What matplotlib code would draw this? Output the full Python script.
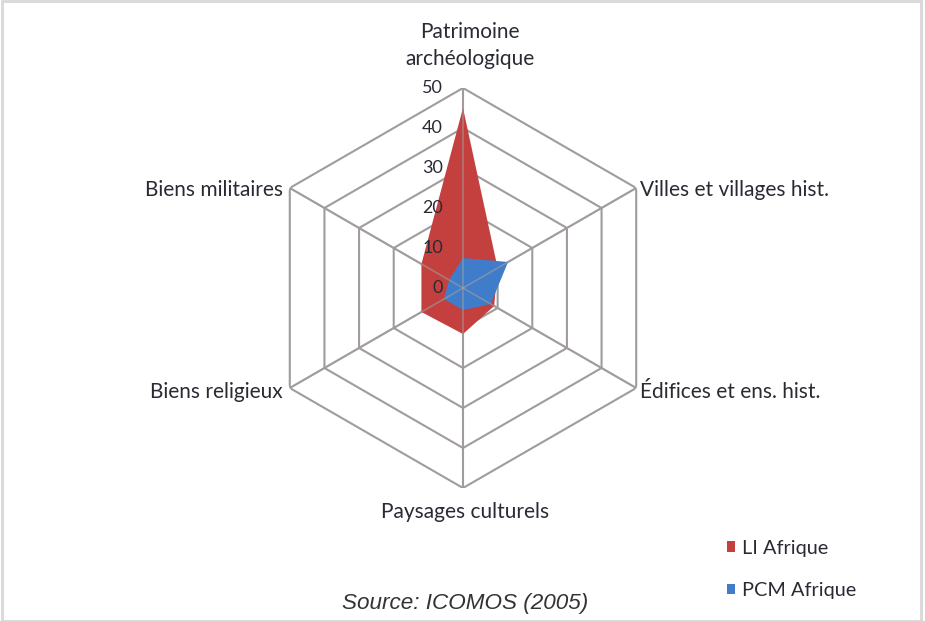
import numpy as np
import matplotlib
matplotlib.use("Agg")
import matplotlib.pyplot as plt
from matplotlib.patches import Patch, Rectangle

categories = [
    "Patrimoine\narchéologique",
    "Villes et villages hist.",
    "Édifices et ens. hist.",
    "Paysages culturels",
    "Biens religieux",
    "Biens militaires",
]
li_afrique = [45, 10, 9, 11.5, 12, 12]
pcm_afrique = [7.5, 13, 8, 5.5, 5.5, 4]
ring_levels = [0, 10, 20, 30, 40, 50]
series_names = ["LI Afrique", "PCM Afrique"]
source_text = "Source: ICOMOS (2005)"

RED = "#C3403F"
BLUE = "#3F7DCB"
GRID = "#A09C9C"
TEXT = "#2A2A34"
FONT = "Lato"

W, H = 925, 621
fig = plt.figure(figsize=(W / 100, H / 100), dpi=100)
fig.patch.set_facecolor("white")

cx, cy, R = 463, 333, 200
ax = fig.add_axes([(cx - R) / W, (cy - R) / H, 2 * R / W, 2 * R / H], projection="polar")
ax.set_theta_offset(np.pi / 2)
ax.set_theta_direction(-1)
ax.set_ylim(0, 50)
ax.grid(False)
ax.spines["polar"].set_visible(False)
ax.set_xticks([])
ax.set_yticks([])
ax.patch.set_alpha(0)

n = len(categories)
theta = np.linspace(0, 2 * np.pi, n, endpoint=False)
theta_closed = np.append(theta, theta[0])

# hexagonal rings and spokes
for lvl in ring_levels[1:]:
    ax.plot(theta_closed, [lvl] * (n + 1), color=GRID, lw=1.5, zorder=1)
for t in theta:
    ax.plot([t, t], [0, 50], color=GRID, lw=1.5, zorder=1)

def closed(vals):
    return np.append(vals, vals[0])

ax.fill(theta_closed, closed(li_afrique), color=RED, lw=0, zorder=2)
ax.fill(theta_closed, closed(pcm_afrique), color=BLUE, lw=0, zorder=3)
# spokes drawn again faintly over the fills
for t in theta:
    ax.plot([t, t], [0, 50], color=GRID, lw=1.2, alpha=0.6, zorder=4)

# radial tick labels
for lvl in ring_levels:
    ax.annotate(str(lvl), xy=(0, lvl), xytext=(-20, 0), textcoords="offset pixels",
                ha="right", va="center", fontsize=13, color=TEXT, family=FONT,
                annotation_clip=False, zorder=5)

# category labels
label_specs = [
    ((7, 19), "center", "bottom"),
    ((4, -2), "left", "center"),
    ((4, -4), "left", "center"),
    ((2, -14), "center", "top"),
    ((-7, -4), "right", "center"),
    ((-7, -2), "right", "center"),
]
for t, lab, (off, ha, va) in zip(theta, categories, label_specs):
    ax.annotate(lab, xy=(t, 50), xytext=off, textcoords="offset pixels",
                ha=ha, va=va, fontsize=15, color=TEXT, family=FONT,
                linespacing=1.45, annotation_clip=False)

handles = [Patch(facecolor=RED, edgecolor="none"), Patch(facecolor=BLUE, edgecolor="none")]
fig.legend(handles, series_names, loc="center left",
           bbox_to_anchor=(727 / W, 1 - 569.5 / H), frameon=False,
           borderpad=0, borderaxespad=0,
           handlelength=0.42, handleheight=0.42, handletextpad=0.35,
           labelspacing=1.3, prop={"family": FONT, "size": 14.3},
           labelcolor=TEXT)

fig.text(465 / W, 1 - 603 / H, source_text, ha="center", va="center",
         fontsize=16.2, style="italic", family="Liberation Sans", color="#333333")

fig.add_artist(Rectangle((0.002, 0.0), 0.994, 0.998, transform=fig.transFigure,
                         fill=False, edgecolor="#D8D8D8", lw=2))

fig.savefig("out.png", dpi=100, facecolor="white")
